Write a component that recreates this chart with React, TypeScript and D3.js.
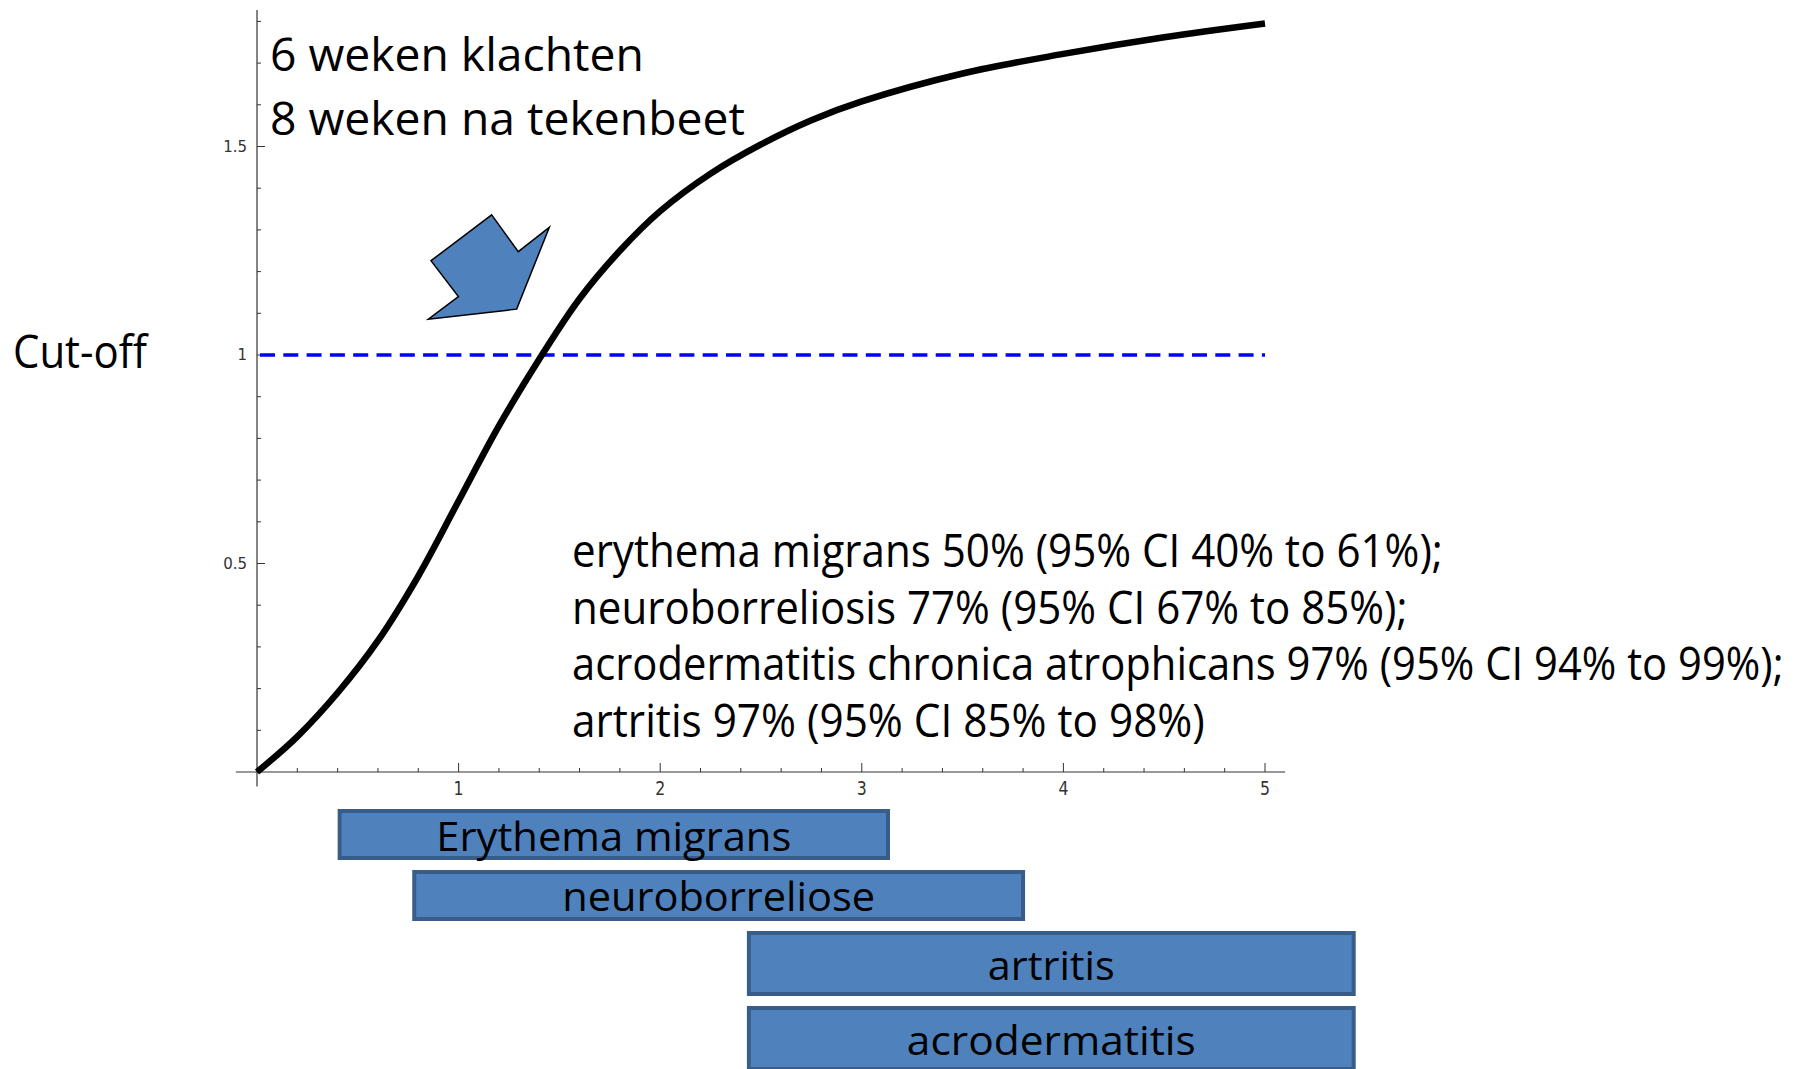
import React, { useEffect, useRef } from 'react';
import * as d3 from 'd3';

// antibody curve
const curveX = [0, 0.2, 0.4, 0.6, 0.8, 1.0, 1.2, 1.4, 1.6, 1.8, 2.0, 2.25, 2.5, 2.75, 3.0, 3.5, 4.0, 4.5, 5.0];
const curveY = [0, 0.085, 0.19, 0.315, 0.47, 0.65, 0.83, 0.99, 1.135, 1.25, 1.345, 1.435, 1.505, 1.563, 1.608, 1.675, 1.722, 1.762, 1.795];

const cutoff = 1;
const xTickValues = [1, 2, 3, 4, 5];
const xTickLabels = ['1', '2', '3', '4', '5'];
const yTickValues = [0.5, 1, 1.5];
const yTickLabels = ['0.5', '1', '1.5'];

const phaseNames = ['Erythema migrans', 'neuroborreliose', 'artritis', 'acrodermatitis'];
const phaseStart = [0.41, 0.78, 2.44, 2.44];
const phaseEnd = [3.13, 3.8, 5.44, 5.44];

const titleLines = ['6 weken klachten', '8 weken na tekenbeet'];
const sensitivityLines = [
  'erythema migrans 50% (95% CI 40% to 61%);',
  'neuroborreliosis 77% (95% CI 67% to 85%);',
  'acrodermatitis chronica atrophicans 97% (95% CI 94% to 99%);',
  'artritis 97% (95% CI 85% to 98%)',
];

// arrow outline, in chart units
const arrowX = [1.164, 1.296, 1.45, 1.288, 0.85, 0.999, 0.863];
const arrowY = [1.336, 1.248, 1.306, 1.11, 1.086, 1.14, 1.226];

const FONT = "'Open Sans', 'Noto Sans', sans-serif";

// squeeze a text horizontally so it spans `w` pixels (Calibri is narrower than Open Sans)
const fitText = (sel, px, py, w, anchor) => {
  const len = sel.node().getComputedTextLength() || w;
  const k = w / len;
  sel.attr('x', 0).attr('y', 0)
    .attr('text-anchor', anchor || 'start')
    .attr('transform', `translate(${px},${py}) scale(${k},1)`);
};

const App = () => {
  const ref = useRef(null);

  useEffect(() => {
    const width = 1806;
    const height = 1069;
    const root = d3.select(ref.current);
    root.select('svg').remove();

    const svg = root
      .append('svg')
      .attr('width', width)
      .attr('height', height)
      .style('position', 'absolute')
      .style('left', 0)
      .style('top', 0)
      .style('background', '#fff');

    const x = d3.scaleLinear().domain([0, 5]).range([257, 1265]);
    const y = d3.scaleLinear().domain([0, 1]).range([772, 355]);
    const axisColor = '#333';

    // axes lines
    svg.append('line')
      .attr('x1', x(0)).attr('x2', x(0))
      .attr('y1', 10).attr('y2', y(-0.035))
      .attr('stroke', axisColor).attr('stroke-width', 1.2);
    svg.append('line')
      .attr('x1', x(-0.105)).attr('x2', x(5.1))
      .attr('y1', y(0)).attr('y2', y(0))
      .attr('stroke', axisColor).attr('stroke-width', 1.2);

    // y ticks (inward)
    const yMinor = d3.range(1, 19).map(d => d / 10);
    svg.selectAll('.ytick')
      .data(yMinor)
      .enter()
      .append('line')
      .attr('x1', x(0))
      .attr('x2', d => x(0) + (yTickValues.some(v => Math.abs(v - d) < 1e-6) ? 8 : 4))
      .attr('y1', d => y(d)).attr('y2', d => y(d))
      .attr('stroke', axisColor).attr('stroke-width', 1);
    svg.selectAll('.ylab')
      .data(yTickValues)
      .enter()
      .append('text')
      .attr('x', x(0) - 10)
      .attr('y', d => y(d))
      .attr('text-anchor', 'end')
      .attr('dominant-baseline', 'central')
      .style('font-family', "'DejaVu Sans', sans-serif")
      .style('font-size', '15px')
      .style('fill', axisColor)
      .text((d, i) => yTickLabels[i]);

    // x ticks (inward)
    const xMinor = d3.range(1, 26).map(d => d / 5);
    svg.selectAll('.xtick')
      .data(xMinor)
      .enter()
      .append('line')
      .attr('x1', d => x(d)).attr('x2', d => x(d))
      .attr('y1', y(0))
      .attr('y2', d => y(0) - (xTickValues.some(v => Math.abs(v - d) < 1e-6) ? 9 : 4))
      .attr('stroke', axisColor).attr('stroke-width', 1);
    svg.selectAll('.xlab')
      .data(xTickValues)
      .enter()
      .append('text')
      .attr('transform', d => `translate(${x(d)},${y(0) + 23}) scale(1.05,1.35)`)
      .attr('text-anchor', 'middle')
      .style('font-family', "'DejaVu Sans', sans-serif")
      .style('font-size', '15px')
      .style('fill', axisColor)
      .text((d, i) => xTickLabels[i]);

    // cut-off line
    svg.append('line')
      .attr('x1', x(0)).attr('x2', x(5))
      .attr('y1', y(cutoff)).attr('y2', y(cutoff))
      .attr('stroke', '#0000ff')
      .attr('stroke-width', 3.5)
      .attr('stroke-dasharray', '15,8.3')
      .attr('stroke-dashoffset', -3);

    // curve
    const pts = curveX.map((d, i) => [d, curveY[i]]);
    const line = d3.line()
      .x(d => x(d[0]))
      .y(d => y(d[1]))
      .curve(d3.curveCatmullRom.alpha(0.5));
    svg.append('path')
      .datum(pts)
      .attr('d', line)
      .attr('fill', 'none')
      .attr('stroke', '#000')
      .attr('stroke-width', 6.5);

    // arrow
    const arrowPts = arrowX.map((d, i) => [x(d), y(arrowY[i])].join(',')).join(' ');
    svg.append('polygon')
      .attr('points', arrowPts)
      .attr('fill', '#4f81bd')
      .attr('stroke', '#000')
      .attr('stroke-width', 1.5)
      .attr('stroke-linejoin', 'miter');

    // texts
    const titleWidths = [374, 475];
    const titleBase = [71, 135];
    titleLines.forEach((t, i) => {
      const tx = svg.append('text')
        .style('font-family', FONT).style('font-size', '46px').style('fill', '#000')
        .text(t);
      fitText(tx, 270, titleBase[i], titleWidths[i]);
    });

    const cut = svg.append('text')
      .style('font-family', FONT).style('font-size', '46px').style('fill', '#000')
      .text('Cut-off');
    fitText(cut, 13, 368, 134);

    const sensWidths = [871, 836, 1212, 633];
    sensitivityLines.forEach((t, i) => {
      const tx = svg.append('text')
        .style('font-family', FONT).style('font-size', '45px').style('fill', '#000')
        .text(t);
      fitText(tx, 572, 567 + i * 56.5, sensWidths[i]);
    });

    // phase bars
    const rowTop = [811, 872, 933, 1008];
    const rowH = [47, 47, 61, 61];
    const labelW = [355, 313, 127, 289];
    const labelBase = [851, 911, 980, 1055];
    phaseNames.forEach((name, i) => {
      svg.append('rect')
        .attr('x', x(phaseStart[i]))
        .attr('y', rowTop[i])
        .attr('width', x(phaseEnd[i]) - x(phaseStart[i]))
        .attr('height', rowH[i])
        .attr('fill', '#4f81bd')
        .attr('stroke', '#385d8a')
        .attr('stroke-width', 4);
      const tx = svg.append('text')
        .style('font-family', FONT).style('font-size', '41px').style('fill', '#000')
        .text(name);
      fitText(tx, (x(phaseStart[i]) + x(phaseEnd[i])) / 2, labelBase[i], labelW[i], 'middle');
    });
  }, []);

  return <div ref={ref} />;
};

export default App;
